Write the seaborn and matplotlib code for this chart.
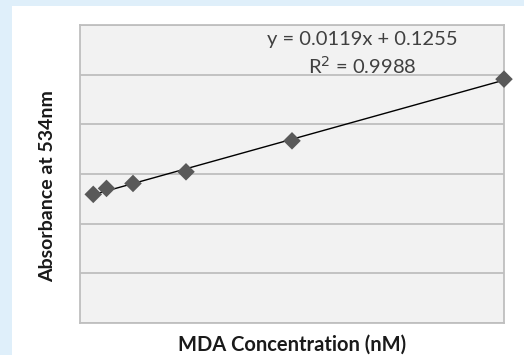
import numpy as np
import pandas as pd
import matplotlib
matplotlib.use("Agg")
import matplotlib.pyplot as plt
from matplotlib.patches import Rectangle
import seaborn as sns

# standard curve data
mda_conc = [0.3125, 0.625, 1.25, 2.5, 5, 10]
absorbance = [0.1295, 0.1355, 0.1405, 0.1522, 0.1834, 0.2455]
slope = 0.0119
intercept = 0.1255
r_squared = 0.9988

df = pd.DataFrame({'conc': mda_conc, 'abs': absorbance})

sns.set_style('white')
plt.rcParams['font.family'] = ['Lato', 'DejaVu Sans']

fig = plt.figure(figsize=(5.24, 3.55), dpi=100, facecolor='#dfeffa')
# white panel inside the blue frame
fig.add_artist(Rectangle((12 / 524, 0), 1, 349 / 355, transform=fig.transFigure,
                         facecolor='white', edgecolor='none', zorder=-10))
ax = fig.add_axes([80 / 524, 32 / 355, 424 / 524, 298 / 355])
ax.set_facecolor('#f2f2f2')

# trendline over the data range
xs = np.array([min(mda_conc), max(mda_conc)])
ax.plot(xs, slope * xs + intercept, color='black', lw=1, zorder=3)
sns.scatterplot(data=df, x='conc', y='abs', marker='D', s=80, color='#595959',
                edgecolor='none', ax=ax, zorder=4, clip_on=False)

ax.set_xlim(0, 10)
ax.set_ylim(0, 0.3)
ax.set_yticks(np.arange(0, 0.31, 0.05))
ax.set_xticks([])
ax.yaxis.grid(True, color='#bfbfbf', lw=1.3)
ax.tick_params(left=False, labelleft=False)
for s in ax.spines.values():
    s.set_color('#bfbfbf')
    s.set_linewidth(1.3)

ax.set_xlabel('MDA Concentration (nM)', fontsize=14.5, fontweight='bold', color='#1a1a1a')
ax.set_ylabel('Absorbance at 534nm', fontsize=14, fontweight='bold', color='#1a1a1a')
ax.xaxis.set_label_coords(0.5, -0.04)
ax.yaxis.set_label_coords(-0.056, 0.46)

ax.text(0.665, 0.953, f'y = {slope:.4f}x + {intercept:.4f}', transform=ax.transAxes,
        ha='center', va='center', fontsize=14.5, color='#404040')
ax.text(0.665, 0.862, f'R$^2$ = {r_squared:.4f}', transform=ax.transAxes,
        ha='center', va='center', fontsize=14.5, color='#404040')

fig.savefig('out.png', dpi=100, facecolor=fig.get_facecolor())
